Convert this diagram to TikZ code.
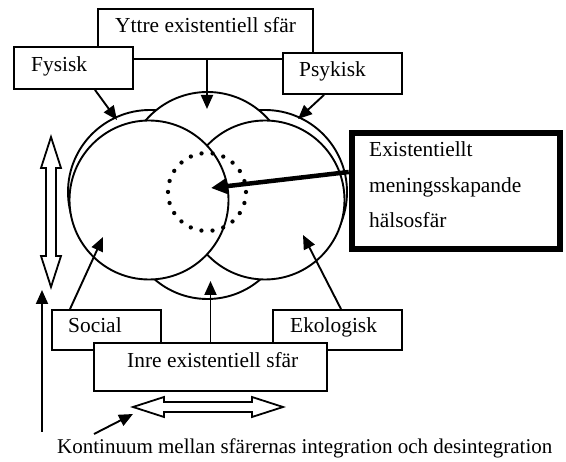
\documentclass[tikz,border=0pt]{standalone}
\usepackage{fontspec}
\setmainfont{Liberation Serif}
\usetikzlibrary{arrows.meta}
\newcommand\txtfont{\fontsize{21.4}{25}\selectfont}
\begin{document}
\begin{tikzpicture}[x=1pt,y=-1pt,
  box/.style={draw, fill=white, line width=1.9pt, inner sep=0pt, rectangle},
  txt/.style={anchor=base west, inner sep=0pt, font=\txtfont},
  sph/.style={draw, fill=white, line width=1.9pt},
  arr/.style={line width=1.9pt, -{Triangle[length=14pt,width=12pt]}},
  hollow/.style={draw, fill=white, line width=1.8pt, line join=miter}]

\useasboundingbox (0,0) rectangle (566,462);

% spheres
\draw[sph] (150,192) circle[radius=82];
\draw[sph] (265,192) circle[radius=82];
\begin{scope}
  \clip (0,0) rectangle (566,200);
  \draw[sph] (207.5,173.5) circle[radius=81.5];
\end{scope}
\begin{scope}
  \clip (0,200) rectangle (566,462);
  \draw[sph] (207.5,218) circle[radius=81];
\end{scope}
\draw[sph] (265,200) circle[radius=79.5];
\draw[sph] (149,200) circle[radius=79.5];
\draw[line width=4.3pt, line cap=round, dash pattern=on 0pt off 11.14pt] (207,192) circle[radius=39];

% boxes
\node[box, minimum width=215pt, minimum height=50pt] (yttre) at (205.5,34) {};
\node[box, minimum width=119pt, minimum height=42pt] (fys) at (73.5,68) {};
\node[box, minimum width=119pt, minimum height=41pt] (psy) at (342.5,73.5) {};
\node[box, line width=6.5pt, minimum width=208pt, minimum height=116pt] (big) at (456,191) {};
\node[box, minimum width=109pt, minimum height=40pt] (soc) at (106.5,330) {};
\node[box, minimum width=129pt, minimum height=40pt] (eko) at (337.5,330) {};
\node[box, minimum width=233pt, minimum height=48pt] (inre) at (210.5,367) {};

% texts
\node[txt] (tyttre) at (115,33) {Yttre existentiell sfär};
\node[txt] (tfys) at (31,72) {Fysisk};
\node[txt] (tpsy) at (299,77) {Psykisk};
\node[txt] (tbig1) at (369,157) {Existentiellt};
\node[txt] (tbig2) at (369,193) {meningsskapande};
\node[txt] (tbig3) at (369,228) {hälsosfär};
\node[txt] (tsoc) at (68,333) {Social};
\node[txt] (teko) at (290,333) {Ekologisk};
\node[txt] (tinre) at (127,368) {Inre existentiell sfär};
\node[txt, font=\fontsize{21}{25}\selectfont] (tkont) at (57,454) {Kontinuum mellan sfärernas integration och desintegration};

% arrow end points
\coordinate (ytip) at (207,109);
\coordinate (ftip) at (117,120);
\coordinate (ptip) at (298,119);
\coordinate (stip) at (103,237);
\coordinate (etip) at (303,235);
\coordinate (itip) at (210.5,281);
\coordinate (mtip) at (211,188);
\coordinate (vbot) at (42,432);
\coordinate (vtop) at (42,290);
\coordinate (kfrom) at (94,434);
\coordinate (kto) at (133,414);

% connectors
\draw[arr] (yttre.south -| ytip) -- (ytip);
\draw[arr] ([xshift=21.5pt]fys.south) -- (ftip);
\draw[arr] ([xshift=-18.5pt]psy.south) -- (ptip);
\draw[arr] ([xshift=-36.5pt]soc.north) -- (stip);
\draw[arr] ([xshift=3.5pt]eko.north) -- (etip);
\draw[arr] (inre.north) -- (itip);
\draw[line width=4.5pt, -{Triangle[length=16pt,width=15pt]}] ([yshift=19pt]big.west) -- (mtip);
\draw[arr] (vbot) -- (vtop);
\draw[arr] (kfrom) -- (kto);

% hollow double arrows
\draw[hollow] (51,137) -- (61,168) -- (56,168) -- (56,256) -- (61,256) -- (51,287) -- (41,256) -- (46,256) -- (46,168) -- (41,168) -- cycle;
\draw[hollow] (133,407) -- (164,397) -- (164,402) -- (252,402) -- (252,397) -- (283,407) -- (252,417) -- (252,412) -- (164,412) -- (164,417) -- cycle;
\end{tikzpicture}
\end{document}
